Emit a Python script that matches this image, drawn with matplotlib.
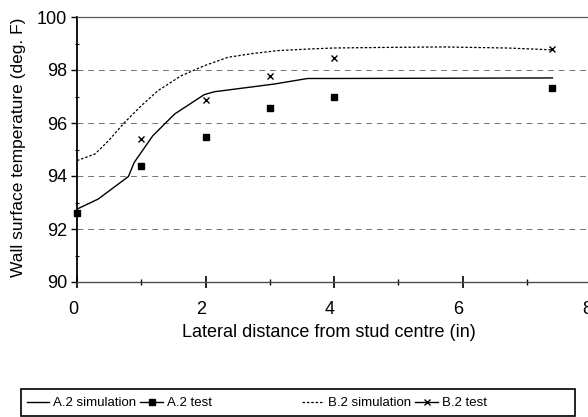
import matplotlib
matplotlib.use('Agg')
import matplotlib.pyplot as plt
from matplotlib.lines import Line2D
from matplotlib.patches import Rectangle
from matplotlib.ticker import MultipleLocator
from matplotlib.transforms import ScaledTranslation

plt.rcParams['font.family'] = ['Liberation Sans', 'DejaVu Sans']

# Datos
a2_sim_x = [0, 0.33, 0.80, 0.89, 1.18, 1.52, 1.98, 2.14, 3.07, 3.59, 4.0, 7.4]
a2_sim_y = [92.75, 93.13, 93.98, 94.51, 95.52, 96.34, 97.07, 97.18, 97.47, 97.68, 97.68, 97.70]

b2_sim_x = [0, 0.28, 0.49, 0.74, 1.0, 1.26, 1.62, 1.98, 2.35, 2.76, 3.12, 3.59, 4.0, 4.7, 5.7, 6.7, 7.4]
b2_sim_y = [94.58, 94.83, 95.33, 96.02, 96.65, 97.22, 97.78, 98.16, 98.48, 98.63, 98.73, 98.79,
            98.83, 98.85, 98.87, 98.83, 98.76]

a2_test_x = [0, 1, 2, 3, 4, 7.4]
a2_test_y = [92.6, 94.36, 95.49, 96.57, 96.97, 97.33]

b2_test_x = [1, 2, 3, 4, 7.4]
b2_test_y = [95.40, 96.88, 97.78, 98.45, 98.78]

labels = ['A.2 simulation', 'A.2 test', 'B.2 simulation', 'B.2 test']

fig = plt.figure(figsize=(5.88, 4.17), dpi=100)
ax = fig.add_axes([77 / 588, 135 / 417, 514 / 588, 265 / 417])

dotted = (0, (2.0, 1.5))
ax.plot(a2_sim_x, a2_sim_y, color='black', lw=1.0)
ax.plot(b2_sim_x, b2_sim_y, color='black', lw=0.9, linestyle=dotted)
ax.plot(a2_test_x, a2_test_y, linestyle='none', marker='s', markersize=5,
        color='black', clip_on=False, zorder=5)
ax.plot(b2_test_x, b2_test_y, linestyle='none', marker='x', markersize=5,
        markeredgewidth=1.0, color='black', clip_on=False, zorder=5)

ax.set_xlim(0, 8)
ax.set_ylim(90, 100)
ax.xaxis.set_major_locator(MultipleLocator(2))
ax.xaxis.set_minor_locator(MultipleLocator(1))
ax.yaxis.set_major_locator(MultipleLocator(2))
ax.yaxis.set_minor_locator(MultipleLocator(1))

ax.tick_params(axis='x', which='major', direction='inout', length=8, width=1.2,
               labelsize=13, pad=10)
ax.tick_params(axis='x', which='minor', direction='inout', length=4.5, width=1.0)
ax.tick_params(axis='y', which='major', direction='out', length=4, width=1.0,
               labelsize=13, pad=3)
ax.tick_params(axis='y', which='minor', direction='inout', length=3, width=0.8)

# etiquetas del eje x un poco a la izquierda, como en el original
desplaz = ScaledTranslation(-4 / 100, 0, fig.dpi_scale_trans)
for lbl in ax.get_xticklabels():
    lbl.set_transform(lbl.get_transform() + desplaz)

ax.grid(axis='y', which='major', color='0.45', lw=0.7, linestyle=(0, (6, 5)))
ax.spines['right'].set_visible(False)
ax.spines['top'].set_color('0.35')
ax.spines['top'].set_linewidth(0.9)
ax.spines['left'].set_linewidth(1.3)
ax.spines['bottom'].set_color('0.3')
ax.spines['bottom'].set_linewidth(1.0)

ax.set_xlabel('Lateral distance from stud centre (in)', fontsize=13)
ax.set_ylabel('Wall surface temperature (deg. F)', fontsize=12.5)
ax.xaxis.set_label_coords(0.49, -0.158)
ax.yaxis.set_label_coords(-0.10, 0.51)

# Leyenda en dos bloques, con marco comun
handles = [
    Line2D([], [], color='black', lw=1.0),
    Line2D([], [], color='black', lw=1.0, marker='s', markersize=4),
    Line2D([], [], color='black', lw=0.9, linestyle=dotted),
    Line2D([], [], color='black', lw=1.0, marker='x', markersize=4, markeredgewidth=1.0),
]
y_leg = 14 / 417
leg1 = fig.legend(handles[:2], labels[:2], ncol=2, loc='center left',
                  bbox_to_anchor=(27 / 588, y_leg), frameon=False, fontsize=9.5,
                  handlelength=1.7, handletextpad=0.3, columnspacing=0.3,
                  borderaxespad=0, borderpad=0)
leg2 = fig.legend(handles[2:], labels[2:], ncol=2, loc='center left',
                  bbox_to_anchor=(302 / 588, y_leg), frameon=False, fontsize=9.5,
                  handlelength=1.7, handletextpad=0.3, columnspacing=0.3,
                  borderaxespad=0, borderpad=0)
fig.add_artist(Rectangle((21 / 588, 1 / 417), 554 / 588, 27 / 417, transform=fig.transFigure,
                         fill=False, edgecolor='black', lw=1.2))

fig.savefig('out.png', dpi=100)
plt.close(fig)
